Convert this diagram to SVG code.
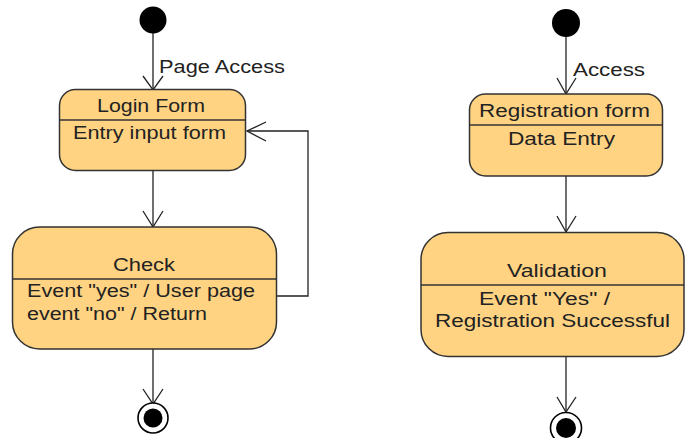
<svg xmlns="http://www.w3.org/2000/svg" width="685" height="438" viewBox="0 0 685 438">
<defs>
<style>
.state{fill:#FFD382;stroke:#333;stroke-width:1.5}
.div{stroke:#333;stroke-width:1.3;fill:none}
.edge{stroke:#222;stroke-width:1.3;fill:none}
.head{stroke:#222;stroke-width:1.3;fill:none}
.t{font-family:"Liberation Sans",Arial,sans-serif;font-size:17.5px;fill:#222}
.init{fill:#000}
.fo{fill:#fff;stroke:#000;stroke-width:1.6}
.fi{fill:#000}
</style>
</defs>
<rect width="685" height="438" fill="#fff"/>
<g id="connectors">
<line class="edge" x1="153" y1="33" x2="153" y2="90"/>
<polyline class="head" points="143,76 153,90 163,76"/>
<text class="t" x="159" y="73" textLength="126" lengthAdjust="spacingAndGlyphs">Page Access</text>
<line class="edge" x1="153" y1="171" x2="153" y2="227"/>
<polyline class="head" points="143,211 153,227 163,211"/>
<polyline class="edge" points="277,296 308,296 308,131 247,131"/>
<polyline class="head" points="266,122 247,131 266,141"/>
<line class="edge" x1="153" y1="349" x2="153" y2="404"/>
<polyline class="head" points="143,389 153,404 163,389"/>
<line class="edge" x1="566" y1="36" x2="566" y2="94"/>
<polyline class="head" points="557,78 566,94 576,78"/>
<text class="t" x="573" y="76" textLength="72" lengthAdjust="spacingAndGlyphs">Access</text>
<line class="edge" x1="566" y1="176" x2="566" y2="232"/>
<polyline class="head" points="557,216 566,232 576,216"/>
<line class="edge" x1="566" y1="357" x2="566" y2="412"/>
<polyline class="head" points="557,397 566,412 576,397"/>
</g>
<g id="init1"><circle class="init" cx="153" cy="20" r="13.5"/></g>
<g id="loginForm">
<rect class="state" x="59.5" y="89.5" width="186" height="81" rx="16"/>
<line class="div" x1="59.5" y1="120" x2="245.5" y2="120"/>
<text class="t" x="97" y="112" textLength="108" lengthAdjust="spacingAndGlyphs">Login Form</text>
<text class="t" x="73" y="139" textLength="153" lengthAdjust="spacingAndGlyphs">Entry input form</text>
</g>
<g id="check">
<rect class="state" x="12.5" y="227" width="264" height="122" rx="27"/>
<line class="div" x1="12.5" y1="279" x2="276.5" y2="279"/>
<text class="t" x="113" y="271" textLength="62" lengthAdjust="spacingAndGlyphs">Check</text>
<text class="t" x="27" y="297" textLength="228" lengthAdjust="spacingAndGlyphs">Event "yes" / User page</text>
<text class="t" x="27" y="320" textLength="180" lengthAdjust="spacingAndGlyphs">event "no" / Return</text>
</g>
<g id="final1"><circle class="fo" cx="153" cy="418" r="15"/><circle class="fi" cx="153" cy="418" r="9.5"/></g>
<g id="init2"><circle class="init" cx="566" cy="23" r="14"/></g>
<g id="registrationForm">
<rect class="state" x="469.5" y="94" width="193" height="82" rx="16"/>
<line class="div" x1="469.5" y1="125" x2="662.5" y2="125"/>
<text class="t" x="479" y="117" textLength="171" lengthAdjust="spacingAndGlyphs">Registration form</text>
<text class="t" x="508" y="145" textLength="107" lengthAdjust="spacingAndGlyphs">Data Entry</text>
</g>
<g id="validation">
<rect class="state" x="421" y="232.5" width="263" height="124" rx="27"/>
<line class="div" x1="421" y1="285" x2="684" y2="285"/>
<text class="t" x="507" y="277" textLength="100" lengthAdjust="spacingAndGlyphs">Validation</text>
<text class="t" x="479" y="305" textLength="131" lengthAdjust="spacingAndGlyphs">Event "Yes" /</text>
<text class="t" x="435" y="327" textLength="235" lengthAdjust="spacingAndGlyphs">Registration Successful</text>
</g>
<g id="final2"><circle class="fo" cx="566" cy="428" r="15.5"/><circle class="fi" cx="566" cy="428" r="10"/></g>
</svg>
